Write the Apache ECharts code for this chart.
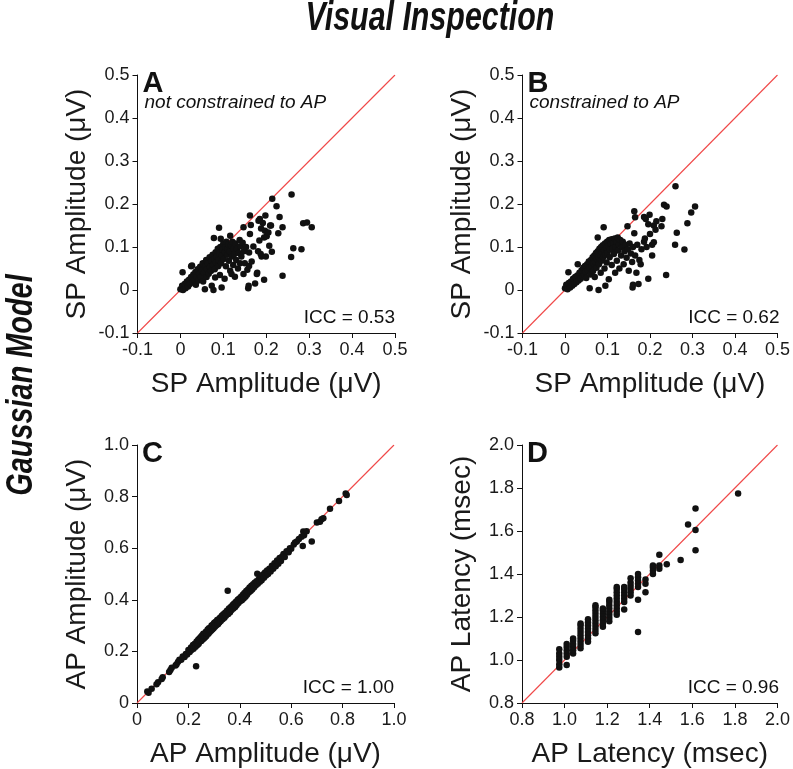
<!DOCTYPE html>
<html><head><meta charset="utf-8">
<script src="https://cdn.jsdelivr.net/npm/echarts@6/dist/echarts.min.js"></script>
<style>html,body{margin:0;padding:0;background:#fff}#c{width:793px;height:769px}</style>
</head><body><div id="c"></div>
<script>
// Panel A: SP amplitude, not constrained to AP (x, y) in µV
const spA = [[0.000,0.002],[0.004,0.010],[0.006,0.000],[0.010,0.014],[0.012,0.004],[0.015,0.020],[0.018,0.008],[0.020,0.024],[0.022,0.014],[0.025,0.030],[0.027,0.057],[0.028,0.018],[0.030,0.036],[0.032,0.024],[0.035,0.042],[0.036,0.012],[0.038,0.030],[0.040,0.048],[0.042,0.022],[0.044,0.038],[0.046,0.054],[0.048,0.030],[0.050,0.046],[0.052,0.062],[0.053,0.020],[0.055,0.040],[0.057,0.002],[0.058,0.056],[0.060,0.070],[0.061,0.030],[0.062,0.048],[0.064,0.062],[0.066,0.038],[0.068,0.076],[0.069,0.054],[0.071,0.044],[0.072,0.068],[0.073,0.010],[0.075,0.082],[0.076,0.058],[0.077,0.000],[0.078,0.121],[0.079,0.072],[0.080,0.048],[0.081,0.029],[0.082,0.088],[0.083,0.064],[0.085,0.078],[0.087,0.096],[0.088,0.055],[0.089,0.070],[0.090,0.145],[0.091,0.086],[0.092,0.035],[0.093,0.100],[0.094,0.119],[0.095,0.062],[0.096,0.006],[0.097,0.080],[0.098,0.094],[0.100,0.108],[0.101,0.072],[0.103,0.026],[0.104,0.088],[0.105,0.100],[0.106,0.055],[0.107,0.112],[0.109,0.082],[0.110,0.096],[0.112,0.106],[0.113,0.068],[0.115,0.090],[0.116,0.045],[0.116,0.126],[0.118,0.104],[0.119,0.037],[0.120,0.078],[0.121,0.112],[0.123,0.058],[0.124,0.096],[0.126,0.084],[0.127,0.031],[0.128,0.108],[0.130,0.070],[0.132,0.096],[0.134,0.050],[0.136,0.086],[0.138,0.116],[0.139,0.062],[0.140,0.102],[0.142,0.078],[0.145,0.110],[0.147,0.037],[0.147,0.146],[0.148,0.090],[0.150,0.062],[0.153,0.100],[0.156,0.047],[0.158,0.004],[0.159,0.010],[0.160,0.087],[0.160,0.056],[0.162,0.173],[0.162,0.130],[0.164,0.151],[0.166,0.066],[0.170,0.101],[0.174,0.015],[0.178,0.037],[0.179,0.040],[0.181,0.090],[0.182,0.161],[0.184,0.115],[0.185,0.165],[0.187,0.084],[0.188,0.143],[0.189,0.078],[0.192,0.156],[0.195,0.024],[0.195,0.122],[0.197,0.138],[0.198,0.173],[0.199,0.078],[0.201,0.125],[0.205,0.134],[0.207,0.103],[0.209,0.150],[0.211,0.150],[0.213,0.089],[0.214,0.212],[0.224,0.195],[0.228,0.132],[0.231,0.170],[0.238,0.146],[0.238,0.033],[0.258,0.077],[0.259,0.222],[0.263,0.097],[0.282,0.095],[0.286,0.155],[0.295,0.157],[0.306,0.146],[0.005,0.041],[0.025,0.055]];

// Panel B: SP amplitude, constrained to AP
const spB = [[0.000,0.004],[0.003,0.012],[0.006,0.002],[0.008,0.041],[0.009,0.016],[0.012,0.006],[0.014,0.020],[0.017,0.010],[0.019,0.026],[0.022,0.014],[0.024,0.030],[0.027,0.018],[0.029,0.034],[0.030,0.060],[0.032,0.022],[0.034,0.040],[0.037,0.026],[0.039,0.046],[0.041,0.032],[0.043,0.052],[0.045,0.036],[0.047,0.056],[0.049,0.042],[0.050,0.028],[0.052,0.060],[0.054,0.046],[0.056,0.066],[0.058,0.004],[0.058,0.052],[0.060,0.036],[0.061,0.070],[0.063,0.056],[0.065,0.076],[0.066,0.044],[0.067,0.062],[0.069,0.080],[0.070,0.030],[0.071,0.066],[0.073,0.086],[0.074,0.052],[0.075,0.072],[0.077,0.122],[0.077,0.090],[0.079,0.000],[0.079,0.076],[0.080,0.060],[0.081,0.096],[0.083,0.082],[0.084,0.040],[0.085,0.100],[0.086,0.068],[0.087,0.088],[0.089,0.104],[0.090,0.076],[0.091,0.146],[0.092,0.092],[0.093,0.050],[0.094,0.108],[0.095,0.010],[0.095,0.082],[0.097,0.098],[0.098,0.064],[0.099,0.112],[0.100,0.086],[0.102,0.102],[0.103,0.025],[0.104,0.116],[0.105,0.076],[0.106,0.094],[0.108,0.108],[0.110,0.118],[0.110,0.058],[0.112,0.096],[0.114,0.110],[0.115,0.084],[0.117,0.120],[0.118,0.040],[0.119,0.100],[0.121,0.112],[0.122,0.068],[0.124,0.122],[0.125,0.092],[0.127,0.106],[0.128,0.050],[0.130,0.116],[0.132,0.080],[0.134,0.100],[0.136,0.112],[0.138,0.060],[0.140,0.090],[0.142,0.105],[0.145,0.075],[0.147,0.148],[0.148,0.095],[0.150,0.045],[0.152,0.108],[0.155,0.085],[0.158,0.065],[0.159,0.006],[0.160,0.012],[0.160,0.100],[0.163,0.183],[0.163,0.132],[0.165,0.169],[0.165,0.080],[0.168,0.040],[0.170,0.105],[0.173,0.014],[0.175,0.070],[0.178,0.060],[0.180,0.095],[0.186,0.170],[0.186,0.112],[0.188,0.120],[0.190,0.165],[0.192,0.100],[0.196,0.026],[0.196,0.153],[0.199,0.175],[0.200,0.130],[0.205,0.105],[0.205,0.080],[0.209,0.150],[0.209,0.111],[0.213,0.140],[0.215,0.160],[0.227,0.148],[0.229,0.165],[0.233,0.198],[0.238,0.035],[0.239,0.194],[0.259,0.105],[0.260,0.241],[0.263,0.133],[0.281,0.094],[0.288,0.155],[0.297,0.180],[0.306,0.194]];

// Panel C: AP amplitude
const apC = [[0.040,0.045],[0.045,0.040],[0.057,0.055],[0.076,0.073],[0.082,0.080],[0.096,0.093],[0.100,0.100],[0.125,0.120],[0.130,0.128],[0.135,0.137],[0.150,0.145],[0.154,0.150],[0.160,0.160],[0.165,0.168],[0.172,0.168],[0.178,0.180],[0.185,0.178],[0.190,0.190],[0.195,0.188],[0.200,0.205],[0.205,0.198],[0.210,0.215],[0.212,0.205],[0.218,0.225],[0.220,0.210],[0.225,0.230],[0.228,0.218],[0.230,0.142],[0.232,0.238],[0.235,0.225],[0.238,0.245],[0.240,0.230],[0.243,0.250],[0.245,0.238],[0.248,0.256],[0.250,0.240],[0.253,0.262],[0.255,0.246],[0.258,0.268],[0.260,0.250],[0.262,0.264],[0.265,0.255],[0.268,0.276],[0.270,0.260],[0.272,0.268],[0.275,0.285],[0.278,0.268],[0.280,0.290],[0.283,0.275],[0.285,0.292],[0.288,0.280],[0.290,0.300],[0.293,0.285],[0.296,0.304],[0.298,0.290],[0.300,0.310],[0.303,0.296],[0.305,0.314],[0.308,0.300],[0.312,0.322],[0.315,0.305],[0.318,0.325],[0.320,0.312],[0.323,0.330],[0.326,0.318],[0.330,0.338],[0.333,0.325],[0.336,0.344],[0.340,0.330],[0.343,0.350],[0.346,0.338],[0.350,0.358],[0.353,0.435],[0.355,0.345],[0.358,0.366],[0.362,0.352],[0.365,0.372],[0.368,0.360],[0.372,0.380],[0.375,0.366],[0.378,0.386],[0.382,0.372],[0.385,0.392],[0.388,0.380],[0.392,0.400],[0.395,0.388],[0.398,0.405],[0.402,0.395],[0.405,0.412],[0.408,0.398],[0.412,0.420],[0.415,0.405],[0.418,0.426],[0.422,0.412],[0.425,0.434],[0.428,0.420],[0.432,0.440],[0.435,0.428],[0.438,0.448],[0.442,0.434],[0.445,0.454],[0.448,0.440],[0.452,0.460],[0.455,0.448],[0.458,0.466],[0.462,0.455],[0.465,0.472],[0.468,0.501],[0.470,0.462],[0.474,0.480],[0.478,0.470],[0.482,0.490],[0.485,0.476],[0.490,0.498],[0.494,0.485],[0.498,0.506],[0.502,0.494],[0.506,0.514],[0.510,0.500],[0.515,0.520],[0.520,0.510],[0.525,0.532],[0.530,0.520],[0.535,0.542],[0.540,0.530],[0.545,0.552],[0.550,0.540],[0.555,0.562],[0.560,0.550],[0.565,0.568],[0.570,0.578],[0.575,0.566],[0.582,0.588],[0.590,0.584],[0.595,0.600],[0.600,0.598],[0.610,0.614],[0.615,0.622],[0.622,0.626],[0.630,0.636],[0.640,0.644],[0.645,0.609],[0.647,0.665],[0.650,0.650],[0.660,0.666],[0.680,0.626],[0.700,0.700],[0.712,0.703],[0.718,0.712],[0.725,0.716],[0.751,0.753],[0.786,0.783],[0.812,0.812],[0.816,0.806]];

// Panel D: AP latency (msec)
const latD = [[0.975,0.965],[0.975,0.980],[0.975,1.000],[0.975,1.015],[0.975,1.030],[0.975,1.050],
[1.010,0.977],[1.010,1.015],[1.010,1.030],[1.010,1.045],[1.010,1.060],[1.010,1.074],
[1.040,1.030],[1.040,1.045],[1.040,1.060],[1.040,1.075],[1.040,1.090],[1.040,1.100],
[1.075,1.055],[1.075,1.070],[1.075,1.085],[1.075,1.100],[1.075,1.115],[1.075,1.130],[1.075,1.145],[1.075,1.160],[1.075,1.170],
[1.110,1.085],[1.110,1.100],[1.110,1.115],[1.110,1.130],[1.110,1.145],[1.110,1.160],[1.110,1.175],[1.110,1.190],
[1.145,1.125],[1.145,1.140],[1.145,1.155],[1.145,1.170],[1.145,1.185],[1.145,1.200],[1.145,1.215],[1.145,1.230],[1.145,1.245],[1.145,1.255],
[1.180,1.155],[1.180,1.170],[1.180,1.185],[1.180,1.200],[1.180,1.215],[1.180,1.230],[1.180,1.240],
[1.210,1.180],[1.210,1.195],[1.210,1.210],[1.210,1.225],[1.210,1.240],[1.210,1.255],[1.210,1.270],[1.210,1.280],
[1.245,1.210],[1.245,1.225],[1.245,1.240],[1.245,1.255],[1.245,1.270],[1.245,1.285],[1.245,1.300],[1.245,1.315],[1.245,1.330],[1.245,1.340],
[1.280,1.235],[1.280,1.270],[1.280,1.285],[1.280,1.300],[1.280,1.315],[1.280,1.330],[1.280,1.340],
[1.310,1.300],[1.310,1.315],[1.310,1.330],[1.310,1.345],[1.310,1.360],[1.310,1.380],
[1.345,1.130],[1.345,1.280],[1.345,1.340],[1.345,1.355],[1.345,1.370],[1.345,1.385],[1.345,1.400],
[1.380,1.315],[1.380,1.355],[1.380,1.375],
[1.415,1.400],[1.415,1.415],[1.415,1.430],[1.415,1.440],
[1.445,1.425],[1.445,1.440],[1.445,1.490],
[1.480,1.445],[1.545,1.465],[1.580,1.630],
[1.615,1.510],[1.615,1.605],[1.615,1.705],[1.815,1.775]];

const panelLetters = ['A','B','C','D'];
const panelNotes = ['not constrained to AP','constrained to AP','',''];
const iccLabels = ['ICC = 0.53','ICC = 0.62','ICC = 1.00','ICC = 0.96'];
const axisNames = ['SP Amplitude (\u03bcV)','SP Amplitude (\u03bcV)','AP Amplitude (\u03bcV)','AP Latency (msec)'];
const ranges = [[-0.1,0.5,0.1],[-0.1,0.5,0.1],[0,1.0,0.2],[0.8,2.0,0.2]];

const FONT = '"Liberation Sans", Arial, Helvetica, sans-serif';
const RED = '#f04848';
const grids = [
  {left:137.5, top:75, width:257.5, height:258},
  {left:522.5, top:75, width:257, height:258},
  {left:137, top:445, width:257, height:258},
  {left:522, top:445, width:257, height:258}
];
function fmt(v){ return Math.abs(v) < 1e-9 ? '0' : v.toFixed(1); }
function mkAxis(i, isX){
  const r = ranges[i];
  return {
    type:'value', gridIndex:i, min:r[0], max:r[1], interval:r[2],
    name: axisNames[i], nameLocation:'middle', nameGap: isX ? 37 : 46,
    nameTextStyle:{fontFamily:FONT, fontSize:28, color:'#1a1a1a'},
    axisLine:{show:true, onZero:false, lineStyle:{color:'#111', width:1}},
    axisTick:{show:true, inside:false, length:5, lineStyle:{color:'#111'}},
    axisLabel:{fontFamily:FONT, fontSize:18, color:'#1a1a1a', margin:8, formatter:fmt},
    splitLine:{show:false},
    axisPointer:{show:false}
  };
}
const data = [spA, spB, apC, latD];
const series = [];
for (let i=0;i<4;i++){
  const r = ranges[i];
  series.push({type:'line', name:'diag'+i, xAxisIndex:i, yAxisIndex:i,
    data:[[r[0],r[0]],[r[1],r[1]]], color:RED,
    showSymbol:false, symbol:'none', itemStyle:{color:RED},
    lineStyle:{color:RED, width:1.1, opacity:1}, emphasis:{disabled:true}, silent:true, z:5});
  series.push({type:'scatter', name:'pts'+i, xAxisIndex:i, yAxisIndex:i, data:data[i], symbolSize:6.5,
    itemStyle:{color:'#111', opacity:1}, emphasis:{disabled:true}, silent:true, z:6});
}
const graphic = [
  {type:'text', x:430, y:19, scaleX:0.76, style:{text:'Visual Inspection', font:'bold italic 40px '+FONT, fill:'#111', align:'center', verticalAlign:'middle'}},
  {type:'text', x:22, y:385, rotation:Math.PI/2, scaleX:0.78, style:{text:'Gaussian Model', font:'bold italic 37px '+FONT, fill:'#111', align:'center', verticalAlign:'middle'}}
];
for (let i=0;i<4;i++){
  const g = grids[i];
  graphic.push({type:'text', x:g.left+5, y:g.top-6, style:{text:panelLetters[i], font:'bold 29px '+FONT, fill:'#111', align:'left', verticalAlign:'top'}});
  if (panelNotes[i]) graphic.push({type:'text', x:g.left+7, y:g.top+28, style:{text:panelNotes[i], font:'italic 19px '+FONT, fill:'#111', align:'left', verticalAlign:'middle'}});
  graphic.push({type:'text', x:g.left+g.width, y:g.top+g.height-15, style:{text:iccLabels[i], font:'19px '+FONT, fill:'#111', align:'right', verticalAlign:'middle'}});
}
const chart = echarts.init(document.getElementById('c'), null, {renderer:'canvas'});
chart.setOption({
  animation:false, backgroundColor:'#fff',
  grid: grids,
  xAxis: [0,1,2,3].map(i=>mkAxis(i,true)),
  yAxis: [0,1,2,3].map(i=>mkAxis(i,false)),
  series: series,
  graphic: graphic
});
</script></body></html>
